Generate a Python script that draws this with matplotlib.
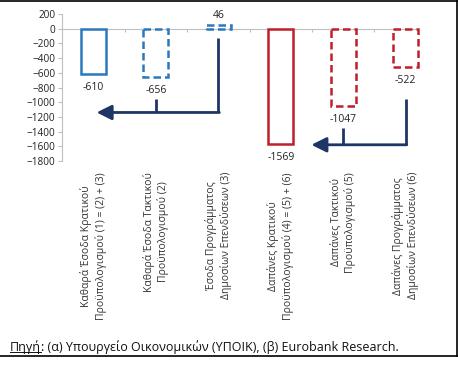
import matplotlib
matplotlib.use("Agg")
import matplotlib.pyplot as plt
from matplotlib.lines import Line2D

plt.rcParams["font.family"] = ["Open Sans", "DejaVu Sans"]

# data
categories = [
    "Καθαρά Έσοδα Κρατικού\nΠροϋπολογισμού (1) = (2) + (3)",
    "Καθαρά Έσοδα Τακτικού\nΠροϋπολογισμού (2)",
    "Έσοδα Προγράμματος\nΔημοσίων Επενδύσεων (3)",
    "Δαπάνες Κρατικού\nΠροϋπολογισμού (4) = (5) + (6)",
    "Δαπάνες Τακτικού\nΠροϋπολογισμού (5)",
    "Δαπάνες Προγράμματος\nΔημοσίων Επενδύσεων (6)",
]
values = [-610, -656, 46, -1569, -1047, -522]
yticks = list(range(200, -1801, -200))
footnote_head = "Πηγή"
footnote_rest = ": (α) Υπουργείο Οικονομικών (ΥΠΟΙΚ), (β) Eurobank Research."

BLUE = "#2a78bd"
RED = "#c01f2a"
NAVY = "#1f3566"
GRAY = "#bfbfbf"
edge_colors = [BLUE, BLUE, BLUE, RED, RED, RED]
edge_styles = ["solid", (0, (3, 1.6)), (0, (3, 1.6)), "solid", (0, (3, 1.6)), (0, (3, 1.6))]
BAR_W = 0.4

fig = plt.figure(figsize=(4.58, 3.70), dpi=100)
ax = fig.add_axes([0.136, 0.565, 0.818, 0.397])

x = list(range(len(values)))
bars = ax.bar(x, values, width=BAR_W, fill=False, linewidth=1.8)
for b, c, ls in zip(bars, edge_colors, edge_styles):
    b.set_edgecolor(c)
    b.set_linestyle(ls)

# data labels outside the bar end
for xi, v in zip(x, values):
    off = 3 if v > 0 else -6
    ax.annotate(f"{v}", (xi, v), xytext=(0, off), textcoords="offset points",
                ha="center", va="bottom" if v > 0 else "top", fontsize=7.5, color="#222222")

ax.set_xlim(-0.5, 5.5)
ax.set_ylim(-1800, 200)
ax.set_yticks(yticks)
ax.tick_params(axis="y", labelsize=7.2, length=3, color=GRAY, pad=2, labelcolor="#222222")
ax.set_xticks(x)
ax.set_xticklabels(categories, rotation=90, fontsize=7.5, linespacing=1.3,
                   multialignment="center", color="#333333")
ax.tick_params(axis="x", length=0, pad=8)

for s in ("top", "right", "bottom"):
    ax.spines[s].set_visible(False)
ax.spines["left"].set_color(GRAY)
ax.spines["left"].set_linewidth(0.8)

# zero line with category separators
ax.hlines(0, -0.5, x[-1] + BAR_W / 2, color=GRAY, lw=0.8, zorder=0)
ax.vlines([i + 0.5 for i in x[:-1]], -40, 0, color=GRAY, lw=0.8, zorder=0)

# bracket arrows: (source bar, branch bar, target tip x, level, start y, branch y)
arrows = [(2, 1, 0.05, -1140, -130, -960),
          (5, 4, 3.49, -1580, -960, -1350)]
for src, br, tip, lvl, y0, yb in arrows:
    ax.plot([src, src], [y0, lvl], color=NAVY, lw=2, solid_capstyle="butt")
    ax.plot([br, br], [yb, lvl], color=NAVY, lw=2, solid_capstyle="butt")
    ax.annotate("", xy=(tip, lvl), xytext=(src + 0.015, lvl),
                arrowprops=dict(arrowstyle="-|>,head_length=0.9,head_width=0.45",
                                color=NAVY, lw=2, shrinkA=0, shrinkB=0))

# frame lines of the exhibit
fig.add_artist(Line2D([0, 1], [0.997, 0.997], color="black", lw=1.2))
fig.add_artist(Line2D([0.998, 0.998], [0.038, 0.997], color="black", lw=1.2))
fig.add_artist(Line2D([0, 1], [0.038, 0.038], color="black", lw=1.2))

# footnote with underlined "Πηγή"
FN_Y = 0.052
t1 = fig.text(0.022, FN_Y, footnote_head, fontsize=9, color="#111111")
fig.canvas.draw()
bb = t1.get_window_extent()
fig.text(bb.x1 / fig.bbox.width, FN_Y, footnote_rest, fontsize=9, color="#111111")
fig.add_artist(Line2D([bb.x0 / fig.bbox.width, bb.x1 / fig.bbox.width],
                      [(bb.y0 + 1.5) / fig.bbox.height] * 2, color="#111111", lw=0.7))

fig.savefig("out.png", dpi=100)
